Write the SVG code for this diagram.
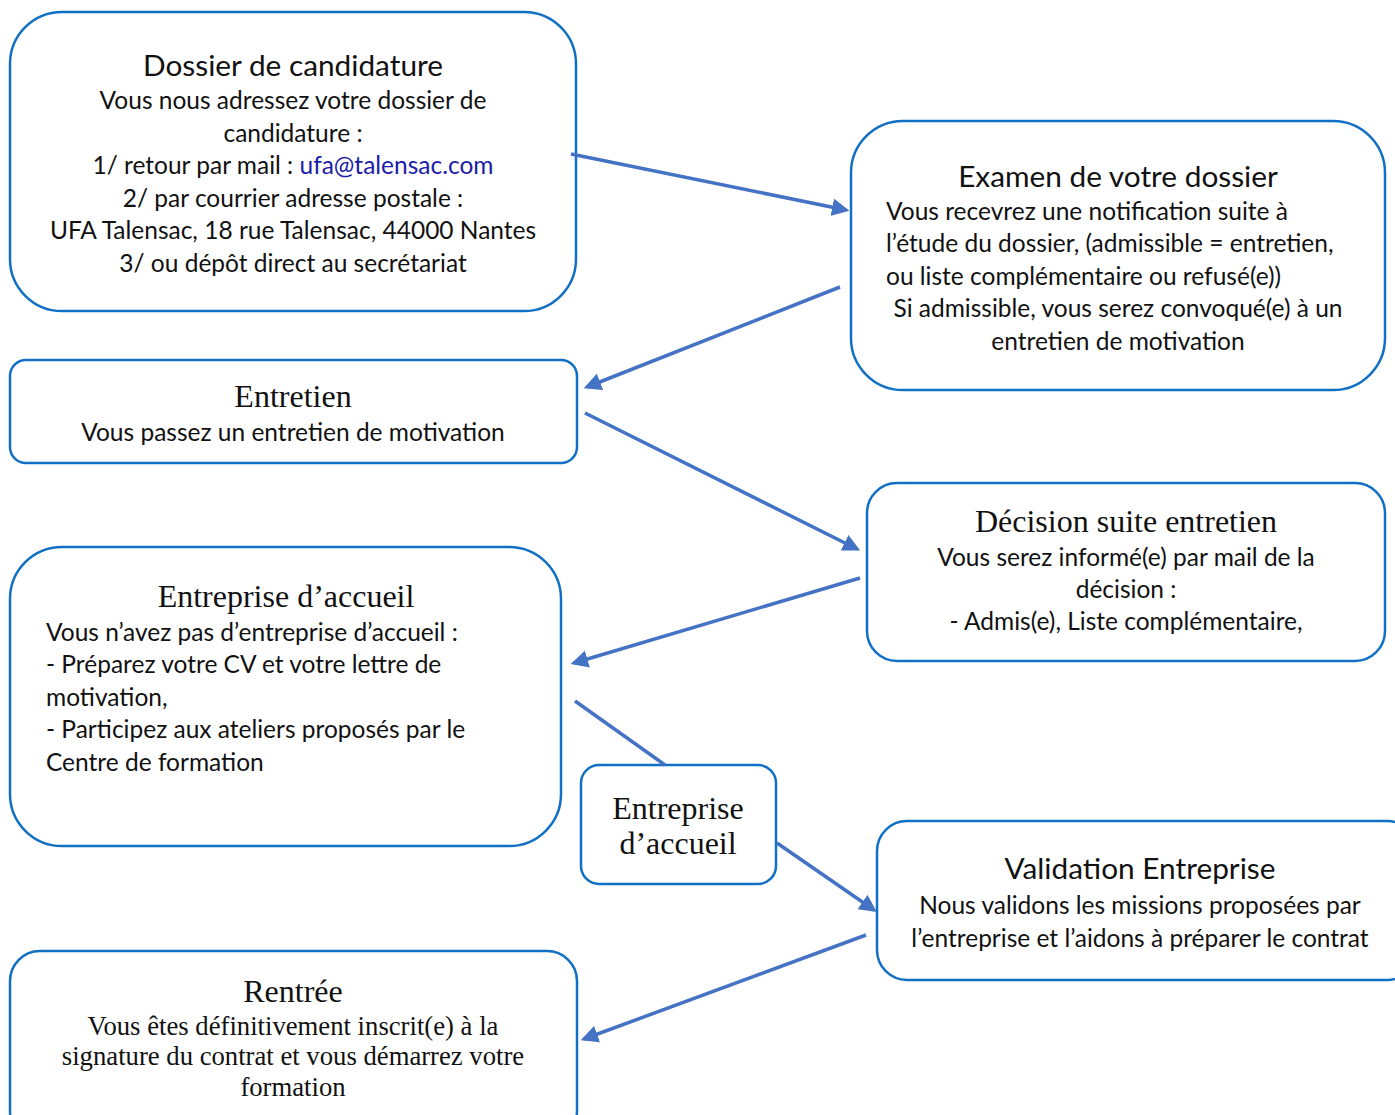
<svg xmlns="http://www.w3.org/2000/svg" width="1395" height="1115" viewBox="0 0 1395 1115">
<style>
.box{fill:#fff;stroke:#1170C4;stroke-width:2.5}
.c{stroke:#4472C4;stroke-width:3.5;fill:none}
.s{font-family:Lato,"Open Sans","Liberation Sans",sans-serif;font-size:24.5px;fill:#111}
.st{font-family:Lato,"Open Sans","Liberation Sans",sans-serif;font-size:29.8px;fill:#111}
.r{font-family:"Liberation Serif","Times New Roman",serif;font-size:32px;fill:#111}
.rs{font-family:"Liberation Serif","Times New Roman",serif;font-size:26.7px;fill:#111}
.m{text-anchor:middle}
</style>
<defs>
<marker id="ah" markerWidth="5" markerHeight="5" refX="4" refY="2.5" orient="auto" markerUnits="strokeWidth">
<path d="M0,0 L5,2.5 L0,5 z" fill="#4472C4"/>
</marker>
</defs>
<rect width="1395" height="1115" fill="#fff"/>
<g id="n1">
<rect class="box" x="10" y="12" width="566" height="299" rx="52"/>
<text class="st m" x="293" y="76">Dossier de candidature</text>
<text class="s m" x="293" y="109">Vous nous adressez votre dossier de</text>
<text class="s m" x="293" y="142">candidature :</text>
<text class="s m" x="293" y="174">1/ retour par mail : <tspan fill="#1c1ca8">ufa@talensac.com</tspan></text>
<text class="s m" x="293" y="207">2/ par courrier adresse postale :</text>
<text class="s m" x="293" y="239">UFA Talensac, 18 rue Talensac, 44000 Nantes</text>
<text class="s m" x="293" y="272">3/ ou dépôt direct au secrétariat</text>
</g>
<g id="n2">
<rect class="box" x="851" y="121" width="534" height="269" rx="52"/>
<text class="st m" x="1118" y="187">Examen de votre dossier</text>
<text class="s" x="886" y="220">Vous recevrez une notification suite à</text>
<text class="s" x="886" y="252">l’étude du dossier, (admissible = entretien,</text>
<text class="s" x="886" y="285">ou liste complémentaire ou refusé(e))</text>
<text class="s m" x="1118" y="317">Si admissible, vous serez convoqué(e) à un</text>
<text class="s m" x="1118" y="350">entretien de motivation</text>
</g>
<g id="n3">
<rect class="box" x="10" y="360" width="567" height="103" rx="16"/>
<text class="r m" x="293" y="407">Entretien</text>
<text class="s m" x="293" y="441">Vous passez un entretien de motivation</text>
</g>
<g id="n4">
<rect class="box" x="867" y="483" width="518" height="178" rx="30"/>
<text class="r m" x="1126" y="532">Décision suite entretien</text>
<text class="s m" x="1126" y="566">Vous serez informé(e) par mail de la</text>
<text class="s m" x="1126" y="598">décision :</text>
<text class="s m" x="1126" y="630">- Admis(e), Liste complémentaire,</text>
</g>
<g id="n5">
<rect class="box" x="10" y="547" width="551" height="299" rx="52"/>
<text class="r m" x="286" y="607">Entreprise d’accueil</text>
<text class="s" x="46" y="641">Vous n’avez pas d’entreprise d’accueil :</text>
<text class="s" x="46" y="673">- Préparez votre CV et votre lettre de</text>
<text class="s" x="46" y="706">motivation,</text>
<text class="s" x="46" y="738">- Participez aux ateliers proposés par le</text>
<text class="s" x="46" y="771">Centre de formation</text>
</g>
<g id="n6">
<rect class="box" x="581" y="765" width="195" height="119" rx="18"/>
<text class="r m" x="678" y="819">Entreprise</text>
<text class="r m" x="678" y="854">d’accueil</text>
</g>
<g id="n7">
<rect class="box" x="877" y="821" width="540" height="159" rx="30"/>
<text class="st m" x="1140" y="879">Validation Entreprise</text>
<text class="s m" x="1140" y="914">Nous validons les missions proposées par</text>
<text class="s m" x="1140" y="947">l’entreprise et l’aidons à préparer le contrat</text>
</g>
<g id="n8">
<rect class="box" x="10" y="951" width="567" height="190" rx="30"/>
<text class="r m" x="293" y="1002">Rentrée</text>
<text class="rs m" x="293" y="1035">Vous êtes définitivement inscrit(e) à la</text>
<text class="rs m" x="293" y="1065">signature du contrat et vous démarrez votre</text>
<text class="rs m" x="293" y="1096">formation</text>
</g>
<g id="connectors">
<line class="c" x1="571" y1="154" x2="846" y2="210" marker-end="url(#ah)"/>
<line class="c" x1="840" y1="287" x2="587" y2="387" marker-end="url(#ah)"/>
<line class="c" x1="585" y1="413" x2="857" y2="549" marker-end="url(#ah)"/>
<line class="c" x1="860" y1="578" x2="574" y2="663" marker-end="url(#ah)"/>
<line class="c" x1="575" y1="701" x2="665" y2="765"/>
<line class="c" x1="777" y1="843" x2="874" y2="910" marker-end="url(#ah)"/>
<line class="c" x1="866" y1="935" x2="584" y2="1039" marker-end="url(#ah)"/>
</g>
</svg>
